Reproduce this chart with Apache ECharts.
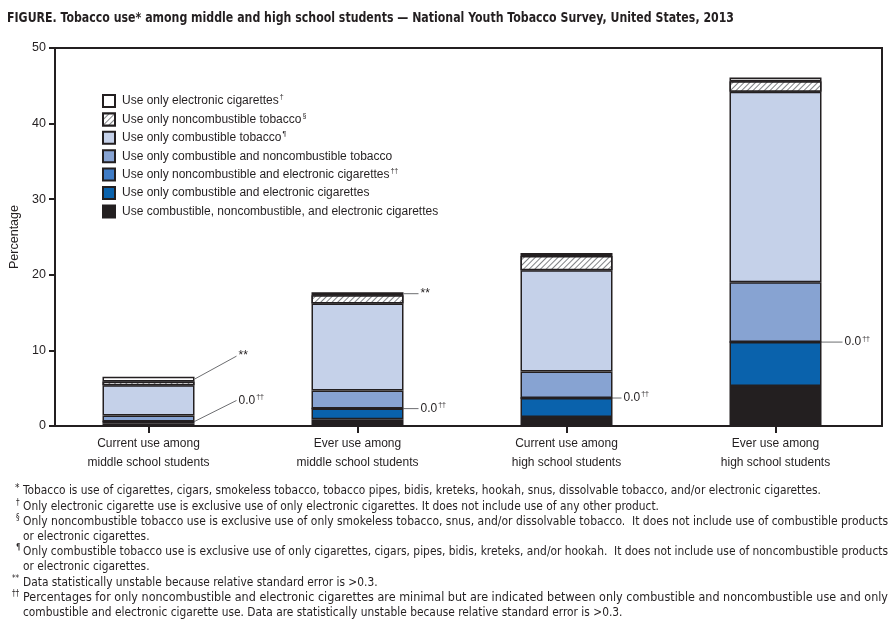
<!DOCTYPE html>
<html>
<head>
<meta charset="utf-8">
<script src="https://cdn.jsdelivr.net/npm/echarts@6/dist/echarts.min.js"></script>
<style>
html,body{margin:0;padding:0;background:#fff;}
#chart{width:890px;height:623px;}
</style>
</head>
<body>
<div id="chart"></div>
<script>
// ---- data ----
const categories = [
  'Current use among\nmiddle school students',
  'Ever use among\nmiddle school students',
  'Current use among\nhigh school students',
  'Ever use among\nhigh school students'
];
const allThree    = [0.3, 0.9, 1.2, 5.3];
const combElec    = [0.3, 1.4, 2.5, 5.8];
const noncombElec = [0.0, 0.0, 0.0, 0.0];
const combNoncomb = [0.8, 2.4, 3.5, 7.9];
const combOnly    = [4.0, 11.5, 13.4, 25.2];
const noncombOnly = [0.5, 1.1, 1.9, 1.4];
const elecOnly    = [0.6, 0.4, 0.4, 0.5];
const unstableFlag = [true, true, false, false]; // "**" markers
const zeroLabel = '0.0';
const yTicks = [0, 10, 20, 30, 40, 50];

const titleText = 'FIGURE. Tobacco use* among middle and high school students — National Youth Tobacco Survey, United States, 2013';

const seriesNames = {
  elec: 'Use only electronic cigarettes',
  noncomb: 'Use only noncombustible tobacco',
  comb: 'Use only combustible tobacco',
  combNon: 'Use only combustible and noncombustible tobacco',
  nonElec: 'Use only noncombustible and electronic cigarettes',
  combElec: 'Use only combustible and electronic cigarettes',
  all: 'Use combustible, noncombustible, and electronic cigarettes'
};
const nameMarks = {};
nameMarks[seriesNames.elec] = '†';
nameMarks[seriesNames.noncomb] = '§';
nameMarks[seriesNames.comb] = '¶';
nameMarks[seriesNames.nonElec] = '††';

const footnotes = [
  ['*', 'Tobacco is use of cigarettes, cigars, smokeless tobacco, tobacco pipes, bidis, kreteks, hookah, snus, dissolvable tobacco, and/or electronic cigarettes.'],
  ['†', 'Only electronic cigarette use is exclusive use of only electronic cigarettes. It does not include use of any other product.'],
  ['§', 'Only noncombustible tobacco use is exclusive use of only smokeless tobacco, snus, and/or dissolvable tobacco.  It does not include use of combustible products'],
  ['', 'or electronic cigarettes.'],
  ['¶', 'Only combustible tobacco use is exclusive use of only cigarettes, cigars, pipes, bidis, kreteks, and/or hookah.  It does not include use of noncombustible products'],
  ['', 'or electronic cigarettes.'],
  ['**', 'Data statistically unstable because relative standard error is >0.3.'],
  ['††', 'Percentages for only noncombustible and electronic cigarettes are minimal but are indicated between only combustible and noncombustible use and only'],
  ['', 'combustible and electronic cigarette use. Data are statistically unstable because relative standard error is >0.3.']
];
const justified = [false, false, true, false, true, false, false, true, false];

// ---- styles ----
const INK = '#231f20';
const SANS = "'Liberation Sans', Arial, sans-serif";
const NARROW = "'DejaVu Sans Condensed', 'Liberation Sans', sans-serif";
const BAR_W = 92;
const colors = {
  elec: '#ffffff', noncomb: '#ffffff', comb: '#c5d1e9', combNon: '#87a3d2',
  nonElec: '#3f7cc6', combElec: '#0a62ac', all: '#231f20'
};
// leader layout (pixels) per annotation kind per bar
const leaderLen = [[42, 15, 9, 21], [42, 15, 9, 21]];
const leaderDy  = [[-23, 0, 0, 0], [-21, 0, 0, 0]];

function measure(text, font) {
  const c = document.createElement('canvas').getContext('2d');
  c.font = font;
  return c.measureText(text).width;
}

const chart = echarts.init(document.getElementById('chart'));

function barSeries(key, data, extra) {
  return Object.assign({
    name: seriesNames[key], type: 'bar', stack: 'total',
    xAxisIndex: 1, yAxisIndex: 1, barWidth: BAR_W, data: data,
    itemStyle: { color: colors[key], borderColor: INK, borderWidth: 1.5 },
    emphasis: { disabled: true }
  }, extra || {});
}

// annotation data: [categoryIndex, anchorValue, kind]
const annData = [];
for (let i = 0; i < categories.length; i++) {
  const total = allThree[i] + combElec[i] + noncombElec[i] + combNoncomb[i] + combOnly[i] + noncombOnly[i] + elecOnly[i];
  if (unstableFlag[i]) annData.push([i, total - elecOnly[i] / 2, 0]);
  annData.push([i, allThree[i] + combElec[i], 1]);
}

const graphics = [];
// title
const titleFont = 'bold 14px ' + NARROW;
graphics.push({
  type: 'text', x: 7, y: 18, scaleX: 727 / measure(titleText, titleFont), scaleY: 1,
  style: { text: titleText, font: titleFont, fill: INK, verticalAlign: 'middle' }
});
// footnotes
const fnY = [491, 507, 522, 537, 552, 567, 583, 598, 613];
const fnFont = '12.5px ' + NARROW;
footnotes.forEach((f, k) => {
  if (f[0]) {
    graphics.push({
      type: 'text', x: f[0].length > 1 ? 12 : (f[0] === '*' ? 15 : 16), y: fnY[k] - 8,
      style: { text: f[0], font: (f[0] === '*' ? '10px ' : '8px ') + NARROW, fill: INK }
    });
  }
  const w = measure(f[1], fnFont);
  const sx = justified[k] ? 865 / w : 0.947;
  graphics.push({
    type: 'text', x: 23, y: fnY[k], scaleX: sx, scaleY: 1,
    style: { text: f[1], font: fnFont, fill: INK, verticalAlign: 'middle' }
  });
});

const option = {
  backgroundColor: '#ffffff',
  animation: false,
  legend: {
    orient: 'vertical', left: 102, top: 94, padding: 0,
    itemWidth: 12, itemHeight: 12, itemGap: 4.4, icon: 'rect',
    selectedMode: false,
    data: [seriesNames.elec, seriesNames.noncomb, seriesNames.comb, seriesNames.combNon,
           seriesNames.nonElec, seriesNames.combElec, seriesNames.all],
    formatter: function (name) {
      return '{t|' + name + '}' + (nameMarks[name] ? '{s|' + nameMarks[name] + '}' : '');
    },
    textStyle: {
      color: INK, fontFamily: SANS, fontSize: 12, padding: [0, 0, 0, 2],
      rich: {
        t: { fontFamily: SANS, fontSize: 12, color: INK, lineHeight: 14 },
        s: { fontFamily: SANS, fontSize: 7, color: INK, verticalAlign: 'top', lineHeight: 14, padding: [0, 0, 6, 1] }
      }
    }
  },
  grid: [
    { left: 52, right: 8, top: 48, bottom: 197, show: true, borderColor: INK, borderWidth: 2, backgroundColor: 'transparent' },
    { left: 44, right: 10, top: 48, bottom: 197 }
  ],
  xAxis: [
    { gridIndex: 0, type: 'value', show: false, min: 0, max: 1 },
    {
      gridIndex: 1, type: 'category', data: categories,
      axisLine: { show: false },
      axisTick: { show: true, alignWithLabel: true, length: 7, lineStyle: { color: INK, width: 2 } },
      axisLabel: { color: INK, fontFamily: SANS, fontSize: 12, lineHeight: 19, margin: 8 }
    }
  ],
  yAxis: [
    {
      gridIndex: 0, type: 'value', min: 0, max: 50, interval: 10,
      name: 'Percentage', nameLocation: 'middle', nameGap: 34, nameRotate: 90,
      nameTextStyle: { color: INK, fontFamily: SANS, fontSize: 12.5 },
      axisLine: { show: true, lineStyle: { color: INK, width: 2 } },
      axisTick: { show: true, length: 6, lineStyle: { color: INK, width: 2 } },
      axisLabel: { color: INK, fontFamily: SANS, fontSize: 12.5, margin: 9,
        formatter: v => (yTicks.indexOf(v) >= 0 ? String(v) : '') },
      splitLine: { show: false }
    },
    { gridIndex: 1, type: 'value', min: 0, max: 50, show: false }
  ],
  series: [
    barSeries('all', allThree),
    barSeries('combElec', combElec),
    barSeries('nonElec', noncombElec),
    barSeries('combNon', combNoncomb),
    barSeries('comb', combOnly),
    barSeries('noncomb', noncombOnly, {
      itemStyle: {
        color: '#ffffff', borderColor: INK, borderWidth: 1.5,
        decal: { symbol: 'rect', symbolSize: 1, dashArrayX: [1, 0], dashArrayY: [1, 2.6], rotation: -Math.PI / 4, color: '#808285', backgroundColor: '#ffffff' }
      }
    }),
    barSeries('elec', elecOnly),
    {
      type: 'custom', xAxisIndex: 1, yAxisIndex: 1, z: 10, silent: true,
      data: annData,
      renderItem: function (params, api) {
        const i = api.value(0), v = api.value(1), kind = api.value(2);
        const p = api.coord([i, v]);
        const x0 = p[0] + BAR_W / 2;
        const len = leaderLen[kind][i], dy = leaderDy[kind][i];
        const text = kind === 0 ? '{t|**}' : '{t|' + zeroLabel + '}{s|††}';
        return {
          type: 'group',
          children: [
            { type: 'line', shape: { x1: x0, y1: p[1], x2: x0 + len, y2: p[1] + dy },
              style: { stroke: '#6d6e71', lineWidth: 1 } },
            { type: 'text', style: {
                x: x0 + len + 2, y: p[1] + dy, text: text, verticalAlign: 'middle', align: 'left',
                rich: {
                  t: { fontFamily: SANS, fontSize: 12, fill: INK, lineHeight: 14 },
                  s: { fontFamily: SANS, fontSize: 7, fill: INK, verticalAlign: 'top', lineHeight: 14, padding: [0, 0, 6, 1] }
                } } }
          ]
        };
      }
    }
  ],
  graphic: graphics
};
chart.setOption(option);
</script>
</body>
</html>
